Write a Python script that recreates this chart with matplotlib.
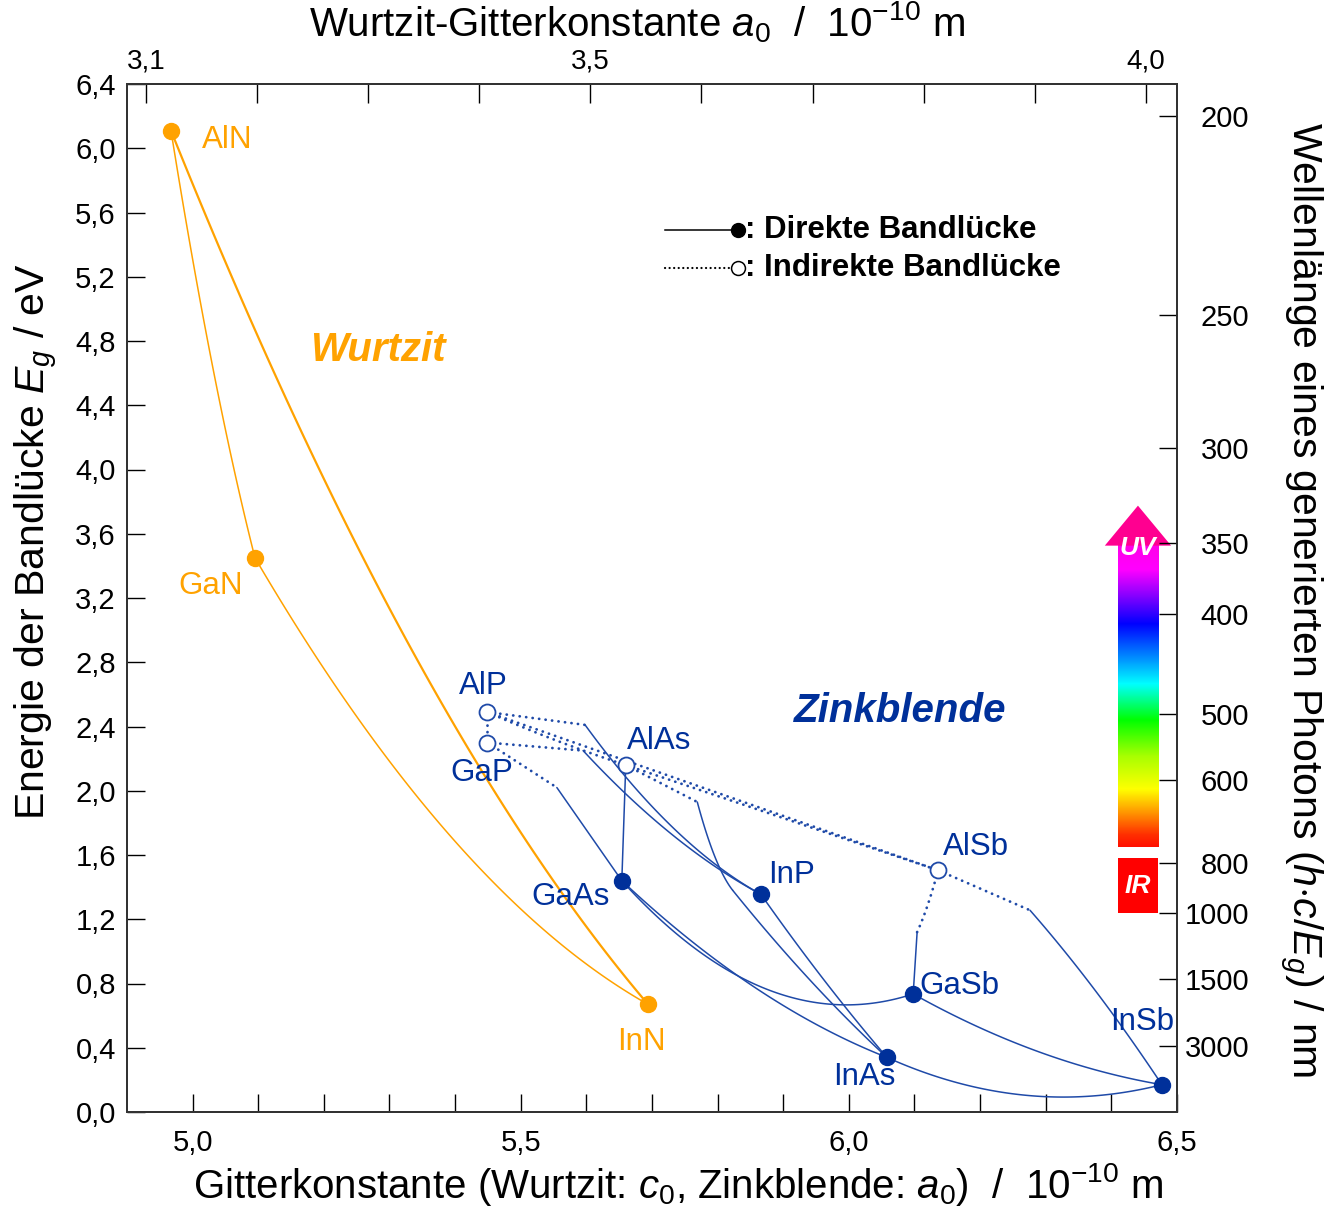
import numpy as np
import matplotlib.pyplot as plt
from matplotlib.colors import LinearSegmentedColormap
from matplotlib.patches import Polygon, Rectangle

plt.rcParams['font.family'] = ['Liberation Sans', 'DejaVu Sans']
plt.rcParams['mathtext.fontset'] = 'custom'
plt.rcParams['mathtext.rm'] = 'Liberation Sans'
plt.rcParams['mathtext.it'] = 'Liberation Sans:italic'
plt.rcParams['mathtext.bf'] = 'Liberation Sans:bold'

# Verbindungen: Gitterkonstante (Wurtzit c0 / Zinkblende a0, 10^-10 m) und Bandluecke (eV)
names = ['AlN', 'GaN', 'InN', 'AlP', 'GaP', 'AlAs', 'AlSb', 'GaAs', 'InP', 'GaSb', 'InAs', 'InSb']
lattice = [4.967, 5.095, 5.694, 5.449, 5.449, 5.660, 6.136, 5.654, 5.866, 6.098, 6.058, 6.477]
gap = [6.11, 3.45, 0.67, 2.49, 2.30, 2.16, 1.505, 1.44, 1.355, 0.735, 0.34, 0.17]
direct = [True, True, True, False, False, False, False, True, True, True, True, True]
wurtzit = [True, True, True, False, False, False, False, False, False, False, False, False]

# Knickpunkte (Uebergang indirekt -> direkt)
knick_names = ['K_GaPGaAs', 'K_AlPInP', 'K_GaPInP', 'K_AlAsInAs', 'M_AlAsInAs', 'K_AlSbGaSb', 'K_AlSbInSb']
knick_x = [5.555, 5.598, 5.595, 5.769, 5.823, 6.104, 6.276]
knick_E = [2.02, 2.41, 2.25, 1.93, 1.38, 1.12, 1.256]

# Kurven: Knoten, Linienart je Abschnitt (s = durchgezogen, d = gepunktet), Bowing je Abschnitt (eV)
curves = [
    (['AlN', 'GaN'], ['s'], [0.6]),
    (['AlN', 'InN'], ['s'], [1.95]),
    (['GaN', 'InN'], ['s'], [1.4]),
    (['AlP', 'GaP'], ['d'], [0.0]),
    (['AlP', 'AlAs'], ['d'], [0.05]),
    (['AlP', 'AlSb'], ['d'], [0.0]),
    (['AlAs', 'AlSb'], ['d'], [0.0]),
    (['GaP', 'K_GaPGaAs', 'GaAs'], ['d', 's'], [0.0, 0.0]),
    (['AlP', 'K_AlPInP', 'InP'], ['d', 's'], [0.0, 0.45]),
    (['GaP', 'K_GaPInP', 'InP'], ['d', 's'], [0.0, 0.3]),
    (['AlAs', 'GaAs'], ['s'], [0.0]),
    (['AlAs', 'K_AlAsInAs', 'M_AlAsInAs', 'InAs'], ['d', 's', 's'], [0.0, 0.27, 0.15]),
    (['GaAs', 'InAs'], ['s'], [0.45]),
    (['GaAs', 'GaSb'], ['s'], [1.3]),
    (['InP', 'InAs'], ['s'], [0.1]),
    (['AlSb', 'K_AlSbGaSb', 'GaSb'], ['d', 's'], [0.1, 0.0]),
    (['AlSb', 'K_AlSbInSb', 'InSb'], ['d', 's'], [0.0, -0.15]),
    (['GaSb', 'InSb'], ['s'], [0.3]),
    (['InAs', 'InSb'], ['s'], [0.6]),
]

# Achsen
x_ticks = [5.0, 5.1, 5.2, 5.3, 5.4, 5.5, 5.6, 5.7, 5.8, 5.9, 6.0, 6.1, 6.2, 6.3, 6.4, 6.5]
x_major = [5.0, 5.5, 6.0, 6.5]
x_labels = ['5,0', '5,5', '6,0', '6,5']
y_ticks = [0.0, 0.4, 0.8, 1.2, 1.6, 2.0, 2.4, 2.8, 3.2, 3.6, 4.0, 4.4, 4.8, 5.2, 5.6, 6.0, 6.4]
y_labels = ['0,0', '0,4', '0,8', '1,2', '1,6', '2,0', '2,4', '2,8', '3,2', '3,6', '4,0', '4,4',
            '4,8', '5,2', '5,6', '6,0', '6,4']
top_ticks = [3.1, 3.2, 3.3, 3.4, 3.5, 3.6, 3.7, 3.8, 3.9, 4.0]
top_major = [3.1, 3.5, 4.0]
top_labels = ['3,1', '3,5', '4,0']
wavelengths = [200, 250, 300, 350, 400, 500, 600, 800, 1000, 1500, 3000]

orange = '#ffa200'
blue_line = '#1f4aa8'
blue_dark = '#00309a'

W, H = 1325, 1207
fig = plt.figure(figsize=(W / 100, H / 100), dpi=100)
ax = fig.add_axes([127 / W, 1 - 1112 / H, 1050 / W, 1028 / H])

pos = {n: (x, e) for n, x, e in zip(names, lattice, gap)}
pos.update({n: (x, e) for n, x, e in zip(knick_names, knick_x, knick_E)})

s = np.linspace(0, 1, 80)
for nodes, styles, bows in curves:
    col = orange if nodes[0] in names[:3] else blue_line
    lw = 1.6 if nodes == ['AlN', 'InN'] else 1.1
    for a, b, st, bow in zip(nodes[:-1], nodes[1:], styles, bows):
        (x0, e0), (x1, e1) = pos[a], pos[b]
        xs = x0 + s * (x1 - x0)
        es = e0 + s * (e1 - e0) - bow * s * (1 - s)
        if st == 's':
            ax.plot(xs, es, color=col, lw=lw, zorder=2, solid_capstyle='round')
        else:
            ax.plot(xs, es, color=col, lw=2.0, ls=(0, (0.05, 2.3)), dash_capstyle='round', zorder=2)

for n, x, e, d, w in zip(names, lattice, gap, direct, wurtzit):
    col = orange if w else blue_dark
    if d:
        ax.plot(x, e, 'o', ms=11.5, color=col, zorder=4)
    else:
        ax.plot(x, e, 'o', ms=11.5, mfc='white', mec=blue_line, mew=1.3, zorder=4)

# Beschriftungen der Verbindungen (Versatz in Punkten)
label_off = {'AlN': (22, -7, 'left'), 'GaN': (-32, -20, 'center'), 'InN': (-5, -27, 'center'),
             'AlP': (-3, 19, 'center'), 'GaP': (-4, -22, 'center'), 'AlAs': (24, 17, 'center'),
             'GaAs': (-37, -12, 'center'), 'InP': (22, 14, 'center'), 'AlSb': (27, 17, 'center'),
             'GaSb': (33, 6, 'center'), 'InAs': (-16, -14, 'center'), 'InSb': (-14, 45, 'center')}
for n, x, e, w in zip(names, lattice, gap, wurtzit):
    dx, dy, ha = label_off[n]
    ax.annotate(n, (x, e), xytext=(dx, dy), textcoords='offset points', ha=ha, va='center',
                fontsize=22.5, color=orange if w else blue_dark, zorder=5)

ax.text(5.282, 4.745, 'Wurtzit', color=orange, fontsize=29, fontweight='bold', style='italic',
        ha='center', va='center')
ax.text(6.078, 2.494, 'Zinkblende', color=blue_dark, fontsize=29, fontweight='bold', style='italic',
        ha='center', va='center')

# Legende
ax.plot([0.512, 0.582], [0.858, 0.858], color='black', lw=1.1, transform=ax.transAxes)
ax.plot([0.582], [0.858], 'o', ms=10, color='black', transform=ax.transAxes)
ax.plot([0.512, 0.577], [0.821, 0.821], color='black', lw=1.6, ls=(0, (0.05, 2.0)),
        dash_capstyle='round', transform=ax.transAxes)
ax.plot([0.582], [0.821], 'o', ms=10, mfc='white', mec='black', mew=1.1, transform=ax.transAxes)
ax.text(0.589, 0.858, ': Direkte Bandlücke', fontsize=22.5, fontweight='bold', va='center',
        transform=ax.transAxes)
ax.text(0.589, 0.821, ': Indirekte Bandlücke', fontsize=22.5, fontweight='bold', va='center',
        transform=ax.transAxes)

# Spektrumspfeil
spec = LinearSegmentedColormap.from_list('spec', [
    (0.0, '#ff00e8'), (0.08, '#ff00ff'), (0.16, '#9000ff'), (0.26, '#0000ff'), (0.375, '#0090ff'),
    (0.46, '#00ffff'), (0.58, '#00ff00'), (0.70, '#a8ff00'), (0.81, '#ffff00'), (0.88, '#ffa000'),
    (0.96, '#ff3000'), (1.0, '#ff1000')])
ax.imshow(np.linspace(0, 1, 256).reshape(-1, 1), cmap=spec, aspect='auto',
          extent=[6.410, 6.471, 1.648, 3.526], zorder=3)
ax.add_patch(Polygon([[6.390, 3.526], [6.491, 3.526], [6.4405, 3.775]], closed=True,
                     facecolor='#ff0090', edgecolor='none', zorder=3))
ax.add_patch(Rectangle((6.410, 1.238), 0.061, 0.342, facecolor='#ff0000', edgecolor='none', zorder=3))
ax.text(6.4405, 3.51, 'UV', color='white', fontsize=19, fontweight='bold', style='italic',
        ha='center', va='center', zorder=4)
ax.text(6.4405, 1.409, 'IR', color='white', fontsize=19, fontweight='bold', style='italic',
        ha='center', va='center', zorder=4)

ax.set_xlim(4.9, 6.5)
ax.set_ylim(0, 6.4)
ax.set_xticks(x_major)
ax.set_xticklabels(x_labels)
ax.set_xticks(x_ticks, minor=True)
ax.set_yticks(y_ticks)
ax.set_yticklabels(y_labels)
ax.tick_params(axis='both', which='both', direction='in', length=13, width=1.0, labelsize=21)
ax.tick_params(axis='x', which='major', pad=12)
ax.tick_params(axis='y', which='major', pad=8)

ax_top = ax.twiny()
ax_top.set_xlim(3.083, 4.028)
ax_top.set_xticks(top_major)
ax_top.set_xticklabels(top_labels)
ax_top.set_xticks(top_ticks, minor=True)
ax_top.tick_params(axis='x', which='both', direction='in', length=14, width=1.0, labelsize=20, pad=7)

ax_r = ax.twinx()
ax_r.set_ylim(0, 6.4)
ax_r.set_yticks([1240 / w for w in wavelengths])
ax_r.set_yticklabels([str(w) for w in wavelengths])
ax_r.tick_params(axis='y', direction='in', length=13, width=1.0, labelsize=21, pad=52)
for t in ax_r.get_yticklabels():
    t.set_horizontalalignment('right')

for a in (ax, ax_top, ax_r):
    for sp in a.spines.values():
        sp.set_linewidth(1.2)
        sp.set_color('#333333')

fig.text(37 / W, 1 - 542 / H, 'Energie der Bandlücke $E_g$ / eV', rotation=90, fontsize=29.5,
         ha='center', va='center')
fig.text(1300 / W, 1 - 600 / H, 'Wellenlänge eines generierten Photons $(h{\\cdot}c/E_g)$ / nm',
         rotation=270, fontsize=29.5, ha='center', va='center')
fig.text(637 / W, 1 - 22 / H, 'Wurtzit-Gitterkonstante $a_0$  /  10$^{-10}$ m', fontsize=29,
         ha='center', va='center')
fig.text(678 / W, 1 - 1185 / H,
         'Gitterkonstante (Wurtzit: $c_0$, Zinkblende: $a_0$)  /  10$^{-10}$ m', fontsize=29,
         ha='center', va='center')

fig.savefig('out.png', dpi=100)
